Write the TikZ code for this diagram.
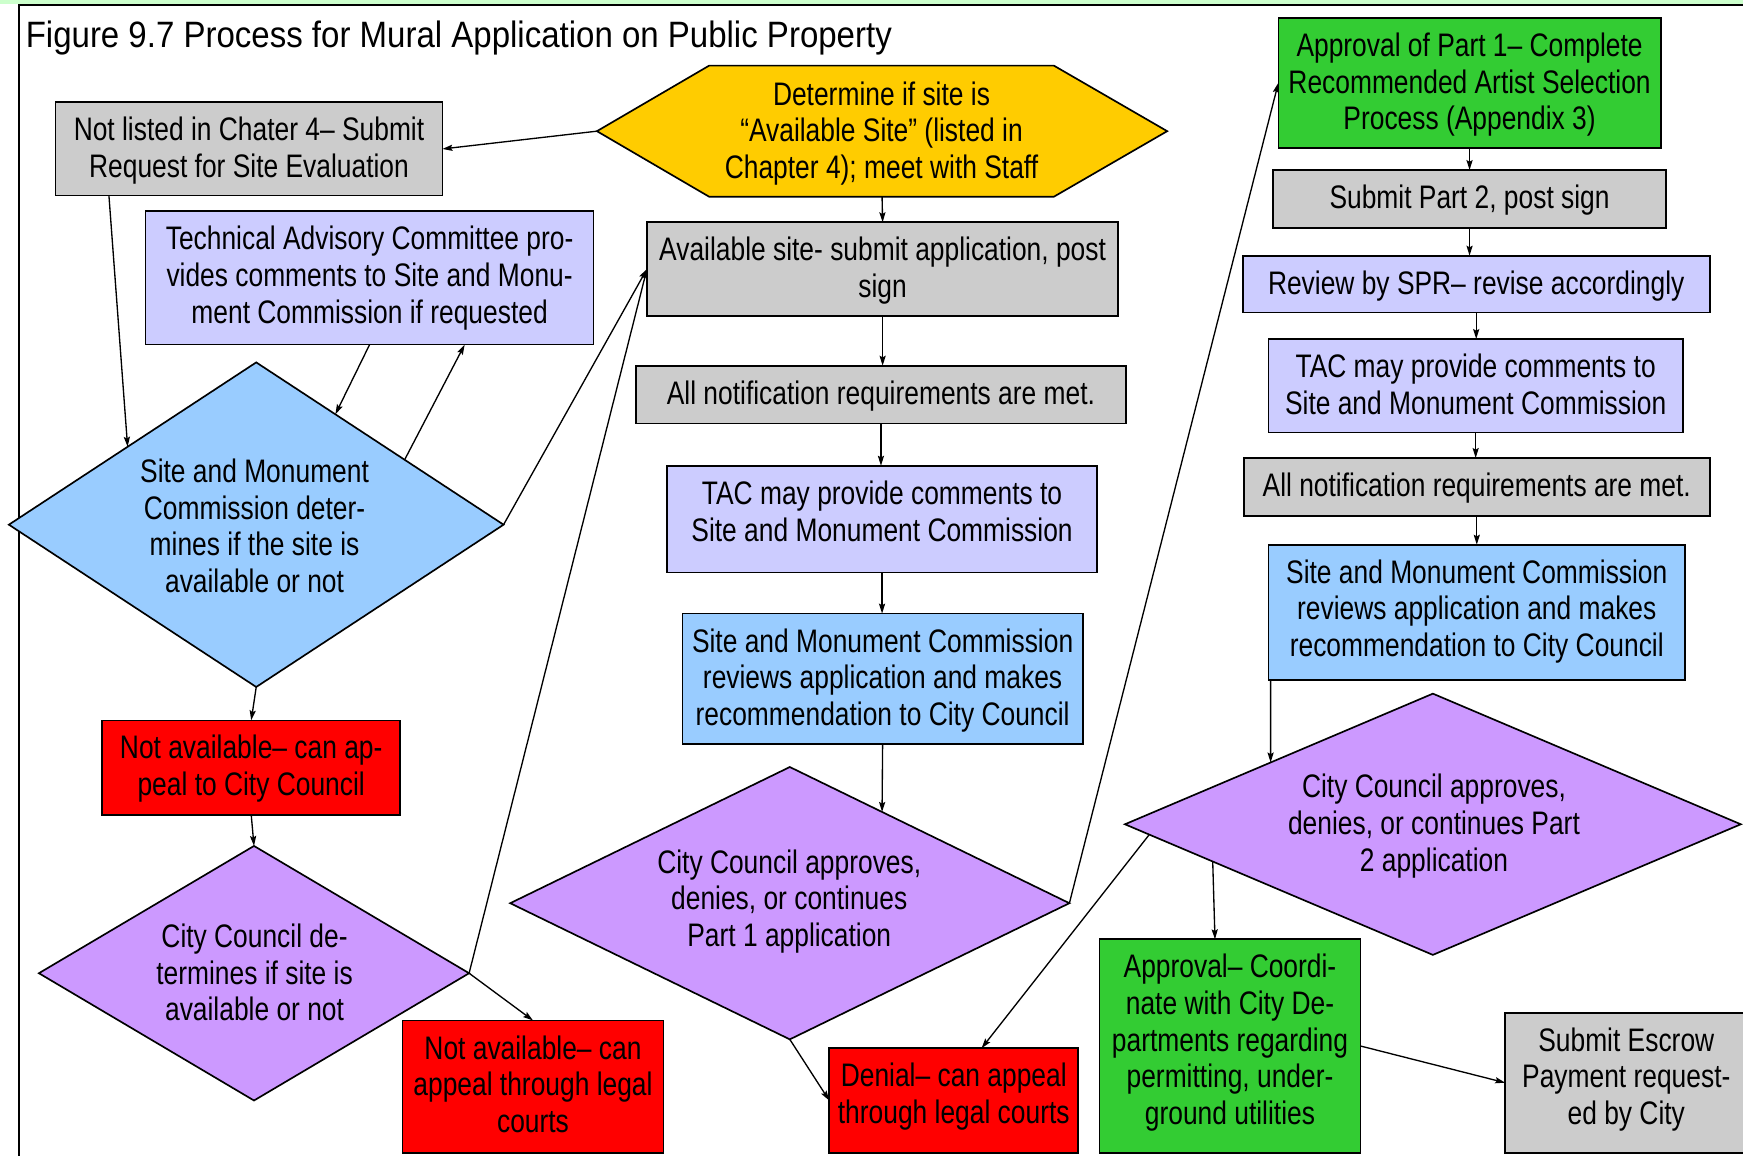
\documentclass[tikz,border=0pt]{standalone}
\usepackage{fontspec}
\setmainfont{Liberation Sans}
\newfontfamily\narrowfont[FakeStretch=0.81]{Liberation Sans}
\newfontfamily\titlefont[FakeStretch=0.9]{Liberation Sans}
\usetikzlibrary{shapes.geometric,arrows.meta,calc}

\definecolor{cgray}{HTML}{CCCCCC}
\definecolor{clav}{HTML}{CCCCFF}
\definecolor{cblue}{HTML}{99CCFF}
\definecolor{cred}{HTML}{FF0000}
\definecolor{cpurple}{HTML}{CC99FF}
\definecolor{cgreen}{HTML}{33CC33}
\definecolor{cyellow}{HTML}{FFCC00}
\definecolor{cband}{HTML}{CCFFCC}

% a process box: name, fill, centre x, centre y, width, height, text (set from the top)
\newcommand\flowbox[7]{%
  \node[box, fill=#2, minimum width=#5, minimum height=#6] (#1) at (#3,#4) {};
  \node[btext] (#1t) at ($(#1.north)+(0,13.3)$) {#7};
}

\begin{document}
\begin{tikzpicture}[x=1pt,y=-1pt,
  every node/.style={font=\narrowfont\fontsize{29.3}{33}\selectfont},
  box/.style={rectangle, draw=black, line width=1.5pt, inner sep=0pt, outer sep=0pt},
  btext/.style={anchor=north, align=center, inner sep=0pt},
  dia/.style={diamond, draw=black, line width=1.5pt, inner sep=0pt, outer sep=0pt},
  dtext/.style={align=center, inner sep=0pt},
  conn/.style={line width=1.2pt, -{Stealth[length=9pt,width=5.5pt,inset=1.5pt]}}
]
\useasboundingbox (0,0) rectangle (1568,1039.06);

% page frame
\fill[cband] (0,0) rectangle (1568,3.5);
\draw[line width=1.5pt] (17,1045) -- (17,4.5) -- (1570,4.5);

% title
\node[anchor=base west, inner sep=0pt, font=\titlefont\fontsize{33}{38}\selectfont] (title) at (23,43)
  {Figure 9.7 Process for Mural Application on Public Property};

% starting step (hexagon)
\draw[fill=cyellow, line width=1.5pt] (537,118) -- (638,59) -- (948,59) -- (1050,118) -- (948,177) -- (638,177) -- cycle;
\node[dtext] (hex) at (793,120) {Determine if site is\\“Available Site” (listed in\\Chapter 4); meet with Staff};
\coordinate (hexW) at (537,118);
\coordinate (hexS) at (793.5,177);

% left column
\flowbox{b2}{cgray}{224}{134}{348}{84}{Not listed in Chater 4– Submit\\Request for Site Evaluation}
\flowbox{b3}{clav}{332.5}{250}{403}{120}{Technical Advisory Committee pro-\\vides comments to Site and Monu-\\ment Commission if requested}
\node[dia, fill=cblue, minimum width=445, minimum height=292] (d4) at (230.5,472) {};
\node[dtext] (d4t) at (229,473) {Site and Monument\\Commission deter-\\mines if the site is\\available or not};
\flowbox{b5}{cred}{226}{690.5}{268}{85}{Not available– can ap-\\peal to City Council}
\node[dia, fill=cpurple, minimum width=387, minimum height=229] (d6) at (228.5,875.5) {};
\node[dtext] (d6t) at (229,875) {City Council de-\\termines if site is\\available or not};
\flowbox{b7}{cred}{479.5}{977.5}{235}{119}{Not available– can\\appeal through legal\\courts}

% middle column
\flowbox{b8}{cgray}{794}{242}{424}{84}{Available site- submit application, post\\sign}
\flowbox{b9}{cgray}{792.5}{355}{441}{52}{All notification requirements are met.}
\flowbox{b10}{clav}{793.5}{467}{387}{96}{TAC may provide comments to\\Site and Monument Commission}
\flowbox{b11}{cblue}{794}{610.5}{360}{117}{Site and Monument Commission\\reviews application and makes\\recommendation to City Council}
\node[dia, fill=cpurple, minimum width=503, minimum height=245] (d12) at (710.5,812.5) {};
\node[dtext] (d12t) at (710,811) {City Council approves,\\denies, or continues\\Part 1 application};
\flowbox{b13}{cred}{858}{990}{224}{94}{Denial– can appeal\\through legal courts}

% right column
\flowbox{b14}{cgreen}{1322}{74.5}{344}{117}{Approval of Part 1– Complete\\Recommended Artist Selection\\Process (Appendix 3)}
\flowbox{b15}{cgray}{1322}{179}{354}{52}{Submit Part 2, post sign}
\flowbox{b16}{clav}{1328}{255.5}{420}{51}{Review by SPR– revise accordingly}
\flowbox{b17}{clav}{1327.5}{347}{373}{84}{TAC may provide comments to\\Site and Monument Commission}
\flowbox{b18}{cgray}{1328.5}{438}{419}{52}{All notification requirements are met.}
\flowbox{b19}{cblue}{1328.5}{551}{375}{122}{Site and Monument Commission\\reviews application and makes\\recommendation to City Council}
\node[dia, fill=cpurple, minimum width=554, minimum height=235] (d20) at (1289,741.5) {};
\node[dtext] (d20t) at (1290,743) {City Council approves,\\denies, or continues Part\\2 application};
\flowbox{b21}{cgreen}{1106.5}{941}{235}{192}{Approval– Coordi-\\nate with City De-\\partments regarding\\permitting, under-\\ground utilities}
\flowbox{b22}{cgray}{1463}{974}{218}{126}{Submit Escrow\\Payment request-\\ed by City}

% connectors
\draw[conn] (hexW) -- (b2.east);
\draw[conn] (hexS) -- (b8.north);
\draw[conn] ($(b2.south west)+(48,0)$) -- ($(d4.west)!0.48!(d4.north)$);
\draw[conn] (b3.south) -- ($(d4.north)!0.32!(d4.east)$);
\draw[conn] ($(d4.north)!0.6!(d4.east)$) -- ($(b3.south west)+(287,0)$);
\draw[conn] (d4.east) -- (b8.west);
\draw[conn] (d4.south) -- (b5.north);
\draw[conn] (b5.south) -- (d6.north);
\draw[conn] (d6.east) -- (b8.west);
\draw[conn] (d6.east) -- (b7.north);
\draw[conn] (b8.south) -- (b8.south |- b9.north);
\draw[conn] (b9.south) -- (b9.south |- b10.north);
\draw[conn] (b10.south) -- (b10.south |- b11.north);
\draw[conn] (b11.south) -- ($(d12.north)!0.33!(d12.east)$);
\draw[conn] (d12.south) -- ($(b13.north west)+(0,47)$);
\draw[conn] (d12.east) -- (b14.west);
\draw[conn] (b14.south) -- (b14.south |- b15.north);
\draw[conn] (b15.south) -- (b15.south |- b16.north);
\draw[conn] (b16.south) -- (b16.south |- b17.north);
\draw[conn] (b17.south) -- (b17.south |- b18.north);
\draw[conn] (b18.south) -- (b18.south |- b19.north);
\draw[conn] ($(b19.south west)+(2,0)$) -- ($(d20.west)!0.473!(d20.north)$);
\draw[conn] ($(d20.west)!0.079!(d20.south)$) -- ($(b13.north west)+(137,0)$);
\draw[conn] ($(d20.west)!0.285!(d20.south)$) -- ($(b21.north west)+(104,0)$);
\draw[conn] (b21.east) -- (b22.west);
\end{tikzpicture}
\end{document}
